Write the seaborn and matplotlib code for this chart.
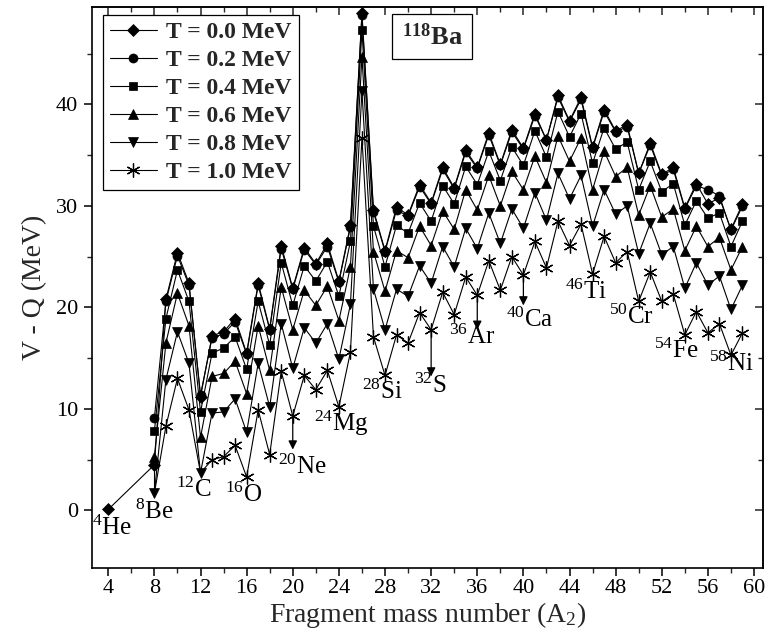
import matplotlib
matplotlib.use("Agg")
import matplotlib.pyplot as plt
import numpy as np
import pandas as pd
import seaborn as sns

# Fragment mass numbers A2 (8..59); the alpha channel A2 = 4 exists only at T = 0
mass_number = list(range(8, 60))
alpha_mass = 4
alpha_value_t00 = 0.1

t00 = [4.5, 20.8, 25.4, 22.4, 11.2, 17.2, 17.6, 18.9, 15.5, 22.4, 17.9, 26.1, 21.9,
       25.9, 24.3, 26.3, 22.6, 28.1, 49.0, 29.6, 25.6, 29.9, 29.1, 32.1, 30.3, 33.8,
       31.8, 35.5, 33.8, 37.2, 34.1, 37.5, 35.7, 39.1, 36.5, 40.9, 38.4, 40.7, 35.8,
       39.5, 37.4, 38.0, 33.2, 36.2, 33.1, 33.8, 29.8, 32.2, 30.2, 30.8, 27.7, 30.2]
t02 = [9.1, 20.6, 25.1, 22.2, 11.4, 17.0, 17.4, 18.6, 15.4, 22.2, 17.8, 25.8, 21.8,
       25.7, 24.2, 26.0, 22.5, 27.9, 48.8, 29.4, 25.5, 29.6, 29.0, 31.9, 30.2, 33.6,
       31.7, 35.3, 33.7, 37.0, 34.0, 37.3, 35.6, 38.9, 36.5, 40.7, 38.3, 40.5, 35.7,
       39.3, 37.3, 37.8, 33.2, 36.0, 33.0, 33.6, 29.7, 32.0, 31.6, 31.0, 27.6, 30.0]
t04 = [7.8, 18.9, 23.7, 20.6, 9.7, 15.5, 16.0, 17.1, 13.9, 20.6, 16.3, 24.4, 20.2,
       24.1, 22.6, 24.5, 21.1, 26.5, 47.3, 28.0, 24.0, 28.1, 27.3, 30.3, 28.5, 32.0,
       30.2, 33.9, 32.1, 35.4, 32.5, 35.8, 34.0, 37.4, 34.8, 39.3, 36.8, 39.1, 34.2,
       37.7, 35.6, 36.3, 31.6, 34.4, 31.4, 32.2, 28.1, 30.5, 28.8, 29.3, 26.0, 28.5]
t06 = [5.3, 16.5, 21.4, 18.2, 7.2, 13.2, 13.5, 14.7, 11.5, 18.2, 13.8, 22.0, 17.8,
       21.7, 20.2, 22.1, 18.7, 24.0, 44.7, 25.5, 21.6, 25.6, 24.9, 28.0, 26.1, 29.5,
       27.7, 31.6, 29.6, 33.0, 30.0, 33.4, 31.6, 34.9, 32.3, 36.9, 34.4, 36.7, 31.6,
       35.4, 32.9, 33.8, 29.1, 32.0, 28.9, 29.7, 25.6, 28.0, 26.0, 26.9, 23.7, 26.0]
t08 = [1.7, 12.9, 17.6, 14.5, 3.7, 9.6, 9.7, 11.0, 7.7, 14.5, 10.2, 18.4, 14.0,
       18.0, 16.5, 18.4, 14.9, 20.3, 41.3, 21.8, 17.8, 21.8, 21.1, 24.1, 22.4, 26.0,
       24.0, 27.8, 25.8, 29.3, 26.3, 29.7, 27.8, 31.3, 28.6, 33.2, 30.7, 33.0, 28.0,
       31.6, 29.2, 30.0, 25.3, 28.3, 25.2, 26.0, 21.9, 24.4, 22.2, 23.1, 19.8, 22.2]
t10 = [1.7, 8.3, 13.0, 9.9, 3.7, 5.0, 5.3, 6.4, 3.3, 9.9, 5.5, 13.7, 9.3,
       13.3, 11.9, 13.8, 10.2, 15.6, 36.7, 17.1, 13.3, 17.3, 16.5, 19.5, 17.8, 21.5,
       19.3, 23.0, 21.2, 24.6, 21.7, 25.0, 23.2, 26.5, 23.9, 28.5, 26.1, 28.2, 23.3,
       27.0, 24.4, 25.5, 20.6, 23.5, 20.6, 21.3, 17.3, 19.6, 17.5, 18.4, 15.3, 17.5]

temperature_labels = ["T = 0.0 MeV", "T = 0.2 MeV", "T = 0.4 MeV",
                      "T = 0.6 MeV", "T = 0.8 MeV", "T = 1.0 MeV"]

# Labelled closed-shell fragments: (A2, element, label centre x, label centre y)
fragment_labels = [(4, "He", 4.3, -1.7), (8, "Be", 7.95, -0.1), (12, "C", 11.4, 2.0),
                   (16, "O", 15.7, 1.5), (20, "Ne", 20.85, 4.3), (24, "Mg", 24.2, 8.6),
                   (28, "Si", 27.8, 11.7), (32, "S", 31.9, 12.3), (36, "Ar", 35.6, 17.1),
                   (40, "Ca", 40.6, 18.8), (46, "Ti", 45.4, 21.5), (50, "Cr", 49.4, 19.1),
                   (54, "Fe", 53.3, 15.7), (58, "Ni", 58.0, 14.4)]
# Arrows pointing from the T = 1.0 MeV point to its label
arrow_masses = [20, 32, 36, 40]
arrow_tips = [6.0, 13.2, 17.8, 20.2]
# At 8Be and 12C the T = 1.0 MeV point lies under the T = 0.8 MeV marker
hidden_star_masses = [8, 12]

sns.set_theme(style="ticks")
plt.rcParams["font.family"] = ["Liberation Serif", "DejaVu Serif"]
plt.rcParams["mathtext.fontset"] = "custom"
plt.rcParams["mathtext.rm"] = "Liberation Serif"
plt.rcParams["mathtext.it"] = "Liberation Serif:italic"
plt.rcParams["mathtext.bf"] = "Liberation Serif:bold"

fig = plt.figure(figsize=(7.71, 6.36), dpi=100)
ax = fig.add_axes([92 / 771, 1 - 568 / 636, (763 - 92) / 771, (568 - 7) / 636])

star_marks = [i for i, m in enumerate(mass_number) if m not in hidden_star_masses]
series = [
    ([alpha_mass] + mass_number, [alpha_value_t00] + t00, "D", 6.0, None),
    (mass_number, t02, "o", 6.5, None),
    (mass_number, t04, "s", 5.8, None),
    (mass_number, t06, "^", 7.0, None),
    (mass_number, t08, "v", 7.0, None),
    (mass_number, t10, (6, 2, 0), 10.0, star_marks),
]

for i, ((xs, ys, mk, ms, every), lab) in enumerate(zip(series, temperature_labels)):
    df = pd.DataFrame({"A2": xs, "VQ": ys})
    sns.lineplot(data=df, x="A2", y="VQ", ax=ax, color="black", linewidth=0.8,
                 marker=mk, markersize=ms, markeredgecolor="black",
                 markerfacecolor="black", markeredgewidth=0.9 if i == 5 else 0.5,
                 markevery=every, label=lab, estimator=None, sort=False,
                 zorder=10 - i)

# small centre dots of the asterisk markers
dot_x = [mass_number[i] for i in star_marks]
dot_y = [t10[i] for i in star_marks]
sns.scatterplot(x=dot_x, y=dot_y, ax=ax, color="black", s=6, linewidth=0,
                legend=False, zorder=5)

# vertical guide from the 8Be point
ax.plot([8, 8], [t00[0], t08[0]], color="black", lw=0.8, zorder=3)
for am, tip in zip(arrow_masses, arrow_tips):
    ax.annotate("", xy=(am, tip), xytext=(am, t10[mass_number.index(am)]),
                arrowprops=dict(arrowstyle="-|>", color="black", lw=0.9,
                                mutation_scale=13, shrinkA=0, shrinkB=0),
                zorder=3)

for mass, elem, lx, ly in fragment_labels:
    ax.text(lx, ly, rf"$^{{{mass}}}$" + elem, ha="center", va="center",
            fontsize=18, color="black", zorder=12)

ax.set_xlim(2.59, 60.78)
ax.set_ylim(-5.67, 49.6)
ax.set_xticks(np.arange(4, 61, 4))
ax.set_xticks(np.arange(6, 60, 4), minor=True)
ax.set_yticks([0, 10, 20, 30, 40])
ax.set_yticks([5, 15, 25, 35, 45], minor=True)
ax.tick_params(axis="both", which="major", direction="out", length=6, width=1.1,
               labelsize=16, colors="black")
ax.tick_params(axis="x", which="major", pad=2)
ax.tick_params(axis="y", which="major", pad=4)
ax.tick_params(axis="both", which="minor", direction="out", length=3.5, width=1.0)
ax.tick_params(top=False, right=False)
for side in ax.spines.values():
    side.set_linewidth(1.2)
    side.set_color("black")

# inward ticks along the top and right edges
sec_x = ax.secondary_xaxis("top")
sec_x.set_xticks(np.arange(4, 61, 4))
sec_x.set_xticks(np.arange(6, 60, 4), minor=True)
sec_x.tick_params(which="major", direction="in", length=6, width=1.1, labeltop=False)
sec_x.tick_params(which="minor", direction="in", length=3.5, width=1.0)
sec_y = ax.secondary_yaxis("right")
sec_y.set_yticks([0, 10, 20, 30, 40])
sec_y.set_yticks([5, 15, 25, 35, 45], minor=True)
sec_y.tick_params(which="major", direction="in", length=6, width=1.1, labelright=False)
sec_y.tick_params(which="minor", direction="in", length=3.5, width=1.0)

ax.set_xlabel(r"Fragment mass number (A$_2$)", fontsize=20, labelpad=1)
ax.set_ylabel("V - Q (MeV)", fontsize=20, labelpad=6)

leg = ax.legend(loc="upper left", bbox_to_anchor=(0.016, 0.986), borderaxespad=0,
                frameon=True, fancybox=False, edgecolor="black", framealpha=1,
                prop={"weight": "bold", "size": 17}, handlelength=2.0,
                handletextpad=0.4, labelspacing=0.27, borderpad=0.3)
leg.get_frame().set_linewidth(0.9)

ax.text(0.507, 0.948, r"$^{\mathbf{118}}$Ba", transform=ax.transAxes, ha="center",
        va="center", fontsize=19, fontweight="bold",
        bbox=dict(boxstyle="square,pad=0.35", facecolor="white", edgecolor="black",
                  linewidth=0.9))

fig.savefig("out.png", dpi=100)
